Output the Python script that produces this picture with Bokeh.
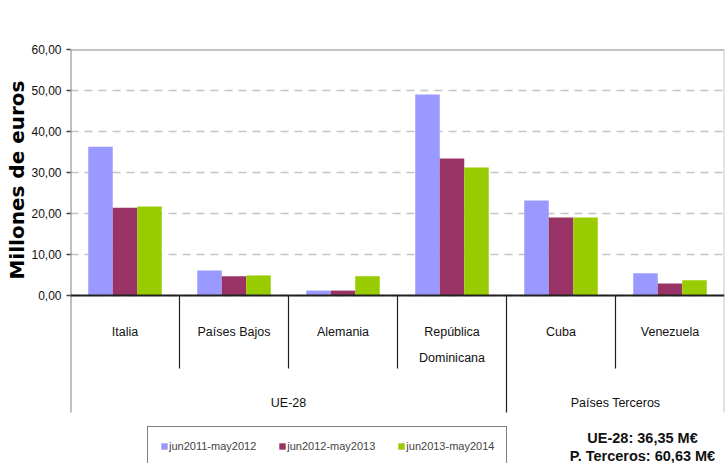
from bokeh.plotting import figure
from bokeh.models import Range1d, FixedTicker, Legend, LegendItem, Title
from bokeh.embed import file_html
from bokeh.resources import INLINE
from bokeh.core.properties import value

# ---------------- data ----------------
categories = ["Italia", "Países Bajos", "Alemania", "República\nDominicana", "Cuba", "Venezuela"]
groups = ["UE-28", "Países Terceros"]
group_sizes = [4, 2]
series_names = ["jun2011-may2012", "jun2012-may2013", "jun2013-may2014"]
s2011 = [36.3, 6.1, 1.2, 49.0, 23.2, 5.4]
s2012 = [21.4, 4.7, 1.2, 33.4, 19.0, 2.9]
s2013 = [21.7, 4.9, 4.7, 31.2, 19.0, 3.7]
y_ticks = [0, 10, 20, 30, 40, 50, 60]
y_tick_labels = ["0,00", "10,00", "20,00", "30,00", "40,00", "50,00", "60,00"]
y_title = "Millones de euros"
totals = ["UE-28: 36,35 M€", "P. Terceros: 60,63 M€"]

colors = ["#9999FF", "#993366", "#99CC00"]
FONT = "Liberation Sans"

# ---------------- layout ----------------
W, H = 725, 463
LEFT, TOP, RIGHT = 70, 49, 1
YMAX = 60
unit = 246 / YMAX               # pixels per data unit
ymin = YMAX - (H - TOP) / unit  # frame reaches canvas bottom
ncat = len(categories)
cat_px = (W - LEFT - RIGHT) / ncat


def py(fy):
    """canvas pixel (from top) -> data y"""
    return YMAX - (fy - TOP) / unit


p = figure(width=W, height=H, output_backend="svg", toolbar_location=None,
           x_range=Range1d(0, ncat), y_range=Range1d(ymin, YMAX),
           x_axis_location=None, min_border_left=LEFT, min_border_right=RIGHT,
           min_border_top=TOP, min_border_bottom=0)
p.outline_line_color = None
p.background_fill_color = "white"
p.border_fill_color = "white"
p.xgrid.grid_line_color = None

yax = p.yaxis[0]
yax.ticker = FixedTicker(ticks=y_ticks)
yax.major_label_overrides = dict(zip(y_ticks, y_tick_labels))
yax.axis_line_color = None
yax.minor_tick_line_color = None
yax.major_tick_in = 0
yax.major_tick_out = 4
yax.major_tick_line_color = "#404040"
yax.major_tick_line_width = 1.5
yax.major_label_standoff = 5
yax.major_label_text_font = FONT
yax.major_label_text_font_size = "12px"
yax.major_label_text_color = "#111111"

# vertical axis title, placed near the top end of the left side
p.add_layout(Title(text=y_title, align="right", offset=31, standoff=0,
                   text_font="DejaVu Sans", text_font_style="bold",
                   text_font_size="20px", text_color="#000000"), "left")

p.ygrid.grid_line_color = "#c4c4c4"
p.ygrid.grid_line_width = 1.5
p.ygrid.grid_line_dash = "8 6"

# ---------------- bars ----------------
bw = 24.5 / cat_px
centers = [i + 0.5 for i in range(ncat)]
renderers = []
for k, vals in enumerate([s2011, s2012, s2013]):
    xs = [c + (k - 1) * bw for c in centers]
    r = p.vbar(x=xs, top=vals, bottom=0, width=bw, fill_color=colors[k], line_color=None)
    renderers.append(r)

# ---------------- frame lines ----------------
y_inner = py(368)
y_outer = py(412)
p.segment(x0=[0], y0=[YMAX], x1=[ncat], y1=[YMAX], line_color="#8a8a8a", line_width=2)
p.segment(x0=[ncat], y0=[YMAX], x1=[ncat], y1=[y_outer], line_color="#c8c8c8", line_width=2)
p.segment(x0=[0], y0=[YMAX], x1=[0], y1=[y_outer], line_color="#808080", line_width=2)
p.segment(x0=[0], y0=[0], x1=[ncat], y1=[0], line_color="#202020", line_width=2)

bounds = []
acc = 0
for g in group_sizes:
    acc += g
    bounds.append(acc)
inner = [i for i in range(1, ncat) if i not in bounds]
outer = [b for b in bounds if b < ncat]
p.segment(x0=inner, y0=[0] * len(inner), x1=inner, y1=[y_inner] * len(inner),
          line_color="#202020", line_width=1.2)
p.segment(x0=outer, y0=[0] * len(outer), x1=outer, y1=[y_outer] * len(outer),
          line_color="#202020", line_width=1.2)

# category labels (split on newline into rows)
line1 = [c.split("\n")[0] for c in categories]
line2 = [c.split("\n")[1] if "\n" in c else "" for c in categories]
common = dict(text_font=value(FONT), text_font_size="12.5px", text_color="#111111",
              text_align="center", text_baseline="alphabetic")
p.text(x=centers, y=[py(331)] * ncat, text=line1, **common)
p.text(x=centers, y=[py(357)] * ncat, text=line2, **common)

gstart = 0
gx = []
for g in group_sizes:
    gx.append(gstart + g / 2)
    gstart += g
p.text(x=gx, y=[py(402)] * len(groups), text=groups, **common)

# totals
tx = (642 - LEFT) / cat_px
p.text(x=[tx, tx], y=[py(437), py(455)], text=totals,
       text_font=value(FONT), text_font_size="14.5px", text_font_style="bold",
       text_color="#111111", text_align="center", text_baseline="alphabetic")

# legend
legend = Legend(items=[LegendItem(label=n, renderers=[r]) for n, r in zip(series_names, renderers)],
                orientation="horizontal", location=(147 - LEFT, -3),
                glyph_width=8, glyph_height=8, label_standoff=1, spacing=22,
                padding=12, margin=0, label_height=14,
                label_text_font=FONT, label_text_font_size="11px",
                border_line_color="#000000", border_line_width=1,
                background_fill_color="white", background_fill_alpha=1)
p.add_layout(legend)

open("out.html", "w").write(file_html(p, INLINE))
